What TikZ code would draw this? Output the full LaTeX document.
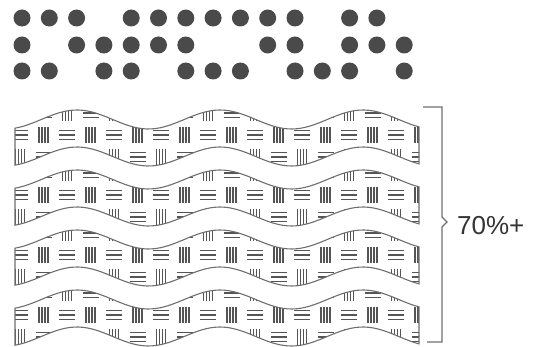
\documentclass[tikz,border=0pt]{standalone}
\usepackage{fontspec}
\setmainfont{Liberation Sans}
\usetikzlibrary{positioning}
\definecolor{DotInk}{HTML}{4A4A4A}
\definecolor{WeaveInk}{HTML}{555555}
\definecolor{EdgeInk}{HTML}{6E6E6E}
\tikzset{
dotmark/.style={circle, fill=DotInk, minimum size=17pt, inner sep=0pt},
bandedge/.style={draw=EdgeInk, line width=1.1pt},
weaveline/.style={draw=WeaveInk, line width=1.25pt},
bracketline/.style={draw=EdgeInk, line width=1.2pt}
}

\begin{document}
\begin{tikzpicture}[x=1pt, y=-1pt]
  \useasboundingbox (0,0) rectangle (533,347);
  % rows of dots
  \foreach \c in {0,1,2,4,5,6,7,8,9,10,12,13} \node[dotmark] (top-\c) at (22+27.3*\c,18) {};
  \foreach \c in {0,2,3,4,5,6,9,10,12,13,14} \node[dotmark] (mid-\c) at (22+27.3*\c,45) {};
  \foreach \c in {0,1,3,4,6,7,8,10,11,12,14} \node[dotmark] (low-\c) at (22+27.3*\c,71) {};
  % wavy bands with woven fill
  \foreach \k in {0,1,2,3} {
    \begin{scope}
      \clip plot[domain=15:419, samples=90] (\x,{119.5+60*\k-9.5*cos(2.5175*(\x-77))})
        -- plot[domain=419:15, samples=90] (\x,{156.5+60*\k-9.5*cos(2.5175*(\x-77))}) -- cycle;
      \foreach \i in {0,...,17} \foreach \j in {0,1,2} {
        \pgfmathsetmacro{\cx}{20+23.5*\i}
        \pgfmathsetmacro{\cy}{113+22*\j+60*\k}
        \pgfmathtruncatemacro{\flip}{mod(\i+\j,2)}
        \ifnum\flip=1
          \draw[weaveline] (\cx-8,\cy-4.5) -- (\cx+8,\cy-4.5) (\cx-8,\cy) -- (\cx+8,\cy) (\cx-8,\cy+4.5) -- (\cx+8,\cy+4.5);
        \else
          \draw[weaveline] (\cx-4.5,\cy-8) -- (\cx-4.5,\cy+8) (\cx-1.5,\cy-8) -- (\cx-1.5,\cy+8)
            (\cx+1.5,\cy-8) -- (\cx+1.5,\cy+8) (\cx+4.5,\cy-8) -- (\cx+4.5,\cy+8);
        \fi
      }
    \end{scope}
    \draw[bandedge] plot[domain=15:419, samples=90] (\x,{119.5+60*\k-9.5*cos(2.5175*(\x-77))})
      -- plot[domain=419:15, samples=90] (\x,{156.5+60*\k-9.5*cos(2.5175*(\x-77))}) -- cycle;
  }
  % bracket and share
  \coordinate (brtop) at (423,107);
  \coordinate (brtip) at (447,222);
  \coordinate (brbot) at (427,342);
  \draw[bracketline] (brtop) -- (442,107) -- (442,217) -- (brtip) -- (442,227) -- (442,342) -- (brbot);
  \node[anchor=west, inner sep=0pt, text=DotInk!70!black, font=\fontsize{26}{26}\selectfont] (share) at (457,226) {70\%+};
\end{tikzpicture}
\end{document}
